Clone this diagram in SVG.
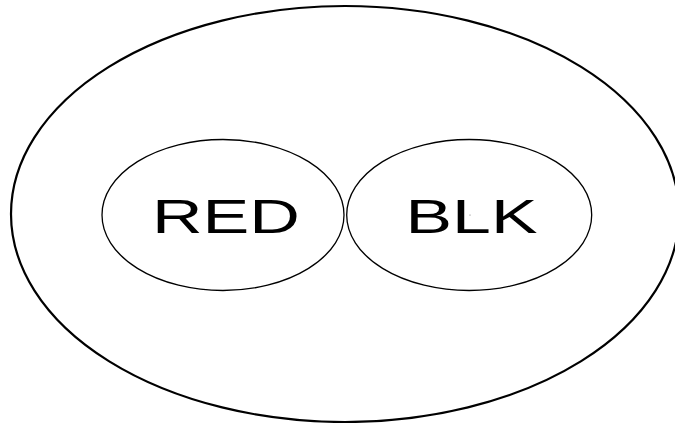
<svg xmlns="http://www.w3.org/2000/svg" width="675" height="423" viewBox="0 0 675 423">
<style>
.outer{fill:none;stroke:#000;stroke-width:2.2}
.inner{fill:none;stroke:#000;stroke-width:1.3}
.lbl{font-family:"Liberation Sans",Arial,sans-serif;font-size:47.5px;fill:#000}
</style>
<rect width="675" height="423" fill="#fff"/>
<g id="outer">
<ellipse class="outer" cx="345" cy="214" rx="334" ry="208"/>
</g>
<g id="red">
<ellipse class="inner" cx="223" cy="215" rx="121" ry="75.5"/>
<text class="lbl" x="152" y="232.5" textLength="148" lengthAdjust="spacingAndGlyphs">RED</text>
</g>
<g id="blk">
<ellipse class="inner" cx="469.2" cy="215" rx="122.5" ry="75.5"/>
<text class="lbl" x="405.5" y="232.5" textLength="132" lengthAdjust="spacingAndGlyphs">BLK</text>
<circle cx="470" cy="215" r="0.5" fill="#555"/>
</g>
<g id="connectors"></g>
</svg>
